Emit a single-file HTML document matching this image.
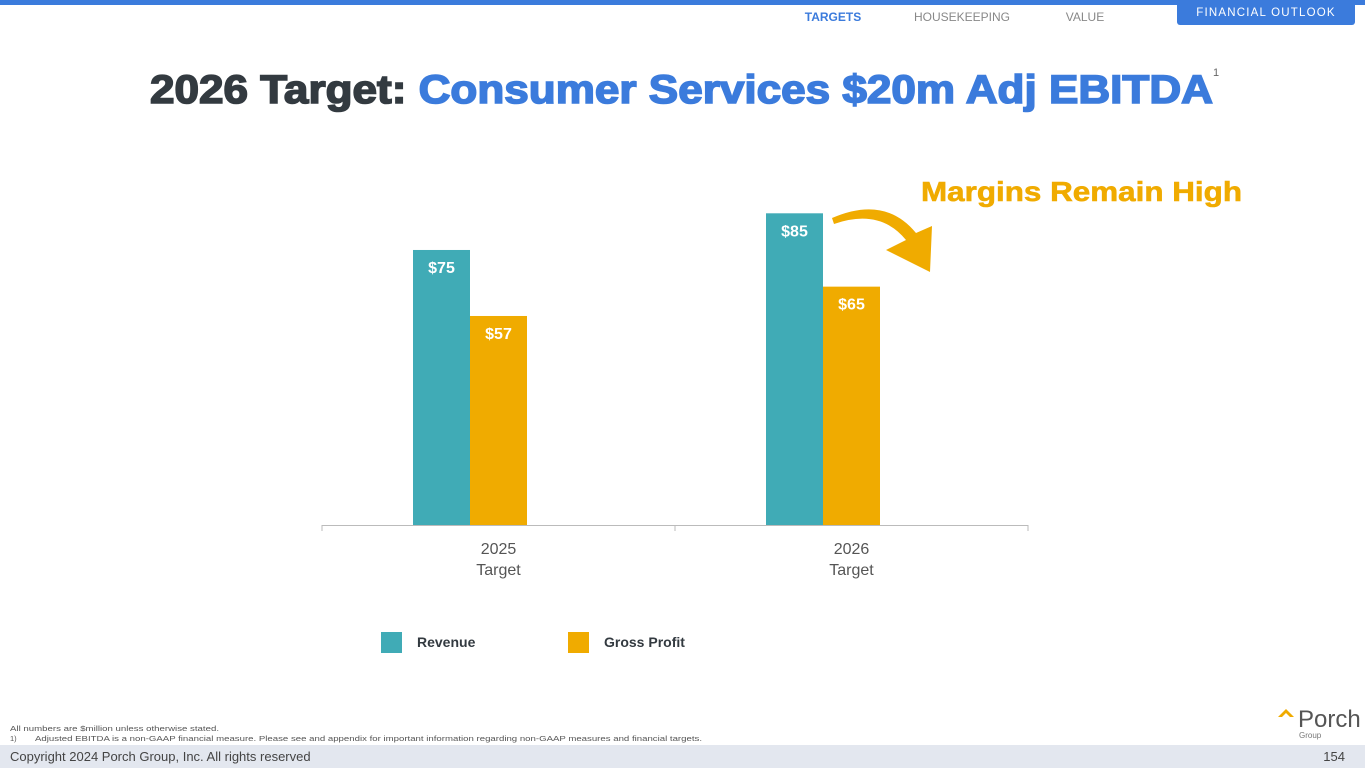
<!DOCTYPE html>
<html><head><meta charset="utf-8"><style>
body{margin:0;width:1365px;height:768px;overflow:hidden;background:#fff;font-family:"Liberation Sans",sans-serif}
svg{display:block}
</style></head><body>
<svg width="1365" height="768" viewBox="0 0 1365 768">
<rect x="0" y="0" width="1365" height="5" fill="#3b7bdc"/>
<text x="833" y="21" font-size="12" font-weight="bold" fill="#3b7bdc" text-anchor="middle">TARGETS</text>
<text x="962" y="21" font-size="12" fill="#888" text-anchor="middle">HOUSEKEEPING</text>
<text x="1085" y="21" font-size="12" fill="#888" text-anchor="middle">VALUE</text>
<rect x="1177" y="0" width="178" height="25" rx="3" fill="#3b7bdc"/>
<text x="1266" y="16" font-size="11.5" fill="#fff" text-anchor="middle" letter-spacing="1.2">FINANCIAL OUTLOOK</text>
<text x="150" y="103" font-size="40" font-weight="bold" stroke-width="1.6" textLength="1063" lengthAdjust="spacingAndGlyphs"><tspan fill="#333a40" stroke="#333a40">2026 Target: </tspan><tspan fill="#3b7bdc" stroke="#3b7bdc">Consumer Services $20m Adj EBITDA</tspan></text>
<text x="1213" y="76" font-size="11" fill="#666">1</text>
<text x="921" y="201" font-size="28" font-weight="bold" fill="#f0ab00" stroke="#f0ab00" stroke-width="0.6" textLength="321" lengthAdjust="spacingAndGlyphs">Margins Remain High</text>
<path d="M834 224 Q880 208 906 240 L886 250 L930 272 L932 226 L916 233 Q885 195 832 218 Z" fill="#f0ab00"/>
<g id="chart"></g>
<rect x="381" y="632" width="21" height="21" fill="#40abb6"/>
<text x="417" y="647" font-size="14" font-weight="bold" fill="#333a40">Revenue</text>
<rect x="568" y="632" width="21" height="21" fill="#f0ab00"/>
<text x="604" y="647" font-size="14" font-weight="bold" fill="#333a40">Gross Profit</text>
<text x="10" y="731" font-size="7.5" fill="#555" textLength="209" lengthAdjust="spacingAndGlyphs">All numbers are $million unless otherwise stated.</text>
<text x="10" y="741" font-size="7.5" fill="#555">1)</text>
<text x="35" y="741" font-size="7.5" fill="#555" textLength="667" lengthAdjust="spacingAndGlyphs">Adjusted EBITDA is a non-GAAP financial measure. Please see and appendix  for important information regarding non-GAAP measures and financial targets.</text>
<path d="M1278 717 L1286 709 L1294 717 L1290 717 L1286 713 L1282 717 Z" fill="#f0ab00"/>
<text x="1298" y="727" font-size="24" fill="#555">Porch</text>
<text x="1299" y="738" font-size="8" fill="#777">Group</text>
<rect x="0" y="745" width="1365" height="23" fill="#e3e7ef"/>
<text x="10" y="761" font-size="13" fill="#444">Copyright 2024 Porch Group, Inc. All rights reserved</text>
<text x="1345" y="761" font-size="13" fill="#444" text-anchor="end">154</text>
</svg>
<script>
const categories=["2025|Target","2026|Target"];
const revenue=[75,85];
const grossProfit=[57,65];
const revLabels=["$75","$85"];
const gpLabels=["$57","$65"];
const NS="http://www.w3.org/2000/svg";
const g=document.getElementById('chart');
const x0=322,x1=1028,base=525,scale=3.667;
const band=(x1-x0)/categories.length;
const y=v=>base-v*scale;
function mk(t,a,txt){const e=document.createElementNS(NS,t);for(const k in a)e.setAttribute(k,a[k]);if(txt!=null)e.textContent=txt;g.appendChild(e);return e;}
categories.forEach((c,i)=>{
 const cx=x0+band*(i+0.5),bw=57,gx=cx-85.5;
 const series=[[revenue[i],'#40abb6',revLabels[i],'revenue'],[grossProfit[i],'#f0ab00',gpLabels[i],'gross-profit']];
 series.forEach((s,j)=>{
  const bx=gx+j*bw;
  const r=mk('rect',{x:bx,y:y(s[0]),width:bw,height:base-y(s[0]),fill:s[1]});
  
  
  const t=mk('text',{x:bx+bw/2,y:y(s[0])+23,'font-size':16,'font-weight':'bold',fill:'#fff','text-anchor':'middle'},s[2]);
  
  
 });
 const parts=c.split('|');
 parts.forEach((p,k)=>{
  const t=mk('text',{x:cx,y:554+k*21,'font-size':16,fill:'#555','text-anchor':'middle'},p);
  
  
 });
});
const ax=mk('line',{x1:x0,y1:base+0.5,x2:x1,y2:base+0.5,stroke:'#bbb','stroke-width':1});


for(let i=0;i<=categories.length;i++){
 const tk=mk('line',{x1:x0+band*i,y1:base,x2:x0+band*i,y2:base+6,stroke:'#bbb'});
 
 
}
</script>
</body></html>
